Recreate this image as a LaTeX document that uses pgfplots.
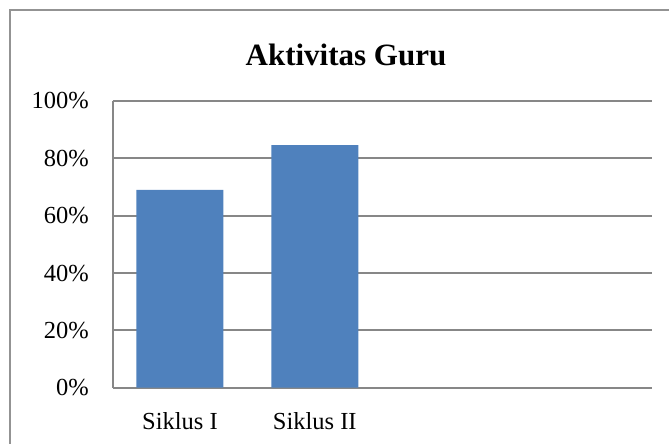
\documentclass[border=0pt]{standalone}
\usepackage{pgfplots}
\pgfplotsset{compat=1.18}
\usepackage{fontspec}
\setmainfont{Liberation Serif}
\definecolor{barblue}{HTML}{4F81BD}
\definecolor{gridgray}{HTML}{878787}
\begin{document}
\begin{tikzpicture}[x=1pt,y=1pt]
\useasboundingbox (0,0) rectangle (669,444);
\draw[gridgray!90, line width=2pt] (10,0) -- (10,434) -- (669,434);
\node[font=\fontsize{31}{36}\selectfont\bfseries] at (346,389) {Aktivitas Guru};
\begin{axis}[
  at={(112.5pt,56.3pt)}, anchor=south west,
  scale only axis, width=539.5pt, height=286.7pt,
  xmin=-0.5, xmax=3.5, ymin=0, ymax=100,
  ytick={0,20,40,60,80,100},
  yticklabels={0\%,20\%,40\%,60\%,80\%,100\%},
  xtick={0,1}, xticklabels={Siklus I,Siklus II},
  axis lines*=left,
  axis line style={gridgray, line width=2pt, -},
  ymajorgrids, grid style={gridgray, line width=2pt},
  major tick length=0pt,
  ticklabel style={font=\fontsize{24.5}{29}\selectfont},
  yticklabel style={anchor=east, inner sep=0pt, xshift=-23.5pt},
  xticklabel style={anchor=base, inner sep=0pt, yshift=-42.3pt},
  clip=false,
]
\addplot[ybar, bar width=87pt, fill=barblue, draw=none] coordinates {(0,69) (1,84.6)};
\end{axis}
\end{tikzpicture}
\end{document}
